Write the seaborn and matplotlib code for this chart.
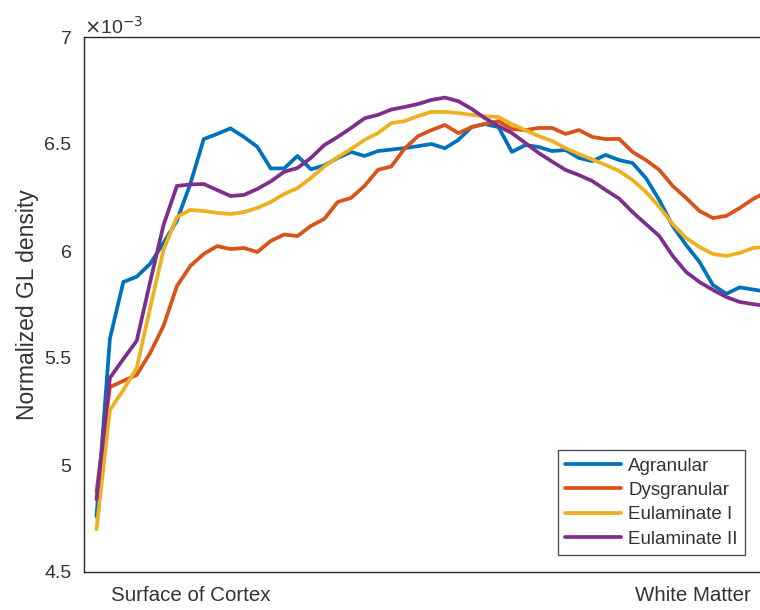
import numpy as np
import pandas as pd
import matplotlib
matplotlib.use("Agg")
import matplotlib.pyplot as plt
import seaborn as sns

# Normalized GL density profiles (units of 1e-3), sampled from cortical surface to white matter
agranular = [4.76, 5.59, 5.855, 5.88, 5.94, 6.037, 6.142, 6.313, 6.523, 6.547, 6.573, 6.533,
             6.487, 6.386, 6.386, 6.444, 6.382, 6.40, 6.435, 6.463, 6.444, 6.467, 6.474, 6.481,
             6.49, 6.50, 6.48, 6.519, 6.58, 6.593, 6.579, 6.463, 6.495, 6.486, 6.467, 6.472,
             6.435, 6.42, 6.449, 6.425, 6.411, 6.341, 6.238, 6.117, 6.028, 5.949, 5.841, 5.80,
             5.83, 5.82, 5.81]
dysgranular = [4.875, 5.364, 5.393, 5.421, 5.523, 5.65, 5.836, 5.93, 5.986, 6.023, 6.009, 6.014,
               5.995, 6.047, 6.077, 6.07, 6.117, 6.15, 6.229, 6.248, 6.304, 6.379, 6.395, 6.479,
               6.537, 6.565, 6.589, 6.551, 6.579, 6.594, 6.607, 6.57, 6.565, 6.575, 6.575, 6.547,
               6.565, 6.533, 6.523, 6.524, 6.463, 6.425, 6.379, 6.304, 6.248, 6.187, 6.154, 6.164,
               6.201, 6.243, 6.276]
eulaminate_1 = [4.70, 5.257, 5.35, 5.453, 5.733, 6.005, 6.159, 6.192, 6.187, 6.178, 6.173, 6.182,
                6.201, 6.229, 6.266, 6.294, 6.341, 6.395, 6.439, 6.477, 6.519, 6.551, 6.598, 6.607,
                6.631, 6.65, 6.65, 6.645, 6.636, 6.63, 6.626, 6.593, 6.565, 6.537, 6.514, 6.481,
                6.453, 6.428, 6.402, 6.374, 6.332, 6.276, 6.206, 6.126, 6.061, 6.019, 5.986, 5.977,
                5.991, 6.014, 6.02]
eulaminate_2 = [4.84, 5.407, 5.495, 5.58, 5.855, 6.121, 6.304, 6.311, 6.313, 6.285, 6.257, 6.262,
                6.29, 6.325, 6.37, 6.388, 6.435, 6.495, 6.533, 6.575, 6.62, 6.636, 6.661, 6.673,
                6.687, 6.706, 6.717, 6.70, 6.664, 6.62, 6.584, 6.551, 6.505, 6.458, 6.418, 6.379,
                6.355, 6.327, 6.285, 6.245, 6.182, 6.126, 6.07, 5.977, 5.902, 5.855, 5.818, 5.785,
                5.762, 5.752, 5.743]

series_names = ["Agranular", "Dysgranular", "Eulaminate I", "Eulaminate II"]
series_values = [agranular, dysgranular, eulaminate_1, eulaminate_2]
colors = ["#0072BD", "#D95319", "#EDB120", "#7E2F8E"]

y_ticks = [4.5, 5, 5.5, 6, 6.5, 7]
y_tick_labels = ["4.5", "5", "5.5", "6", "6.5", "7"]
x_tick_pos = [7.0, 44.5]
x_tick_labels = ["Surface of Cortex", "White Matter"]

frames = []
for name, vals in zip(series_names, series_values):
    frames.append(pd.DataFrame({"depth": np.arange(len(vals)), "density": vals, "region": name}))
df = pd.concat(frames, ignore_index=True)

sns.set_theme(style="white")
plt.rcParams["font.family"] = ["Liberation Sans", "DejaVu Sans"]
text_color = "#333333"

W, H = 760, 610
fig = plt.figure(figsize=(W / 100, H / 100), dpi=100)
left_px, right_px, top_px, bottom_px = 84, 800, 37, 572
ax = fig.add_axes([left_px / W, 1 - bottom_px / H,
                   (right_px - left_px) / W, (bottom_px - top_px) / H])

sns.lineplot(data=df, x="depth", y="density", hue="region", hue_order=series_names,
             palette=colors, linewidth=2.7, estimator=None, ax=ax)

px_per_step = 13.4
x_min = -(96.5 - left_px) / px_per_step
ax.set_xlim(x_min, x_min + (right_px - left_px) / px_per_step)
ax.set_ylim(4.5, 7)

ax.set_yticks(y_ticks)
ax.set_yticklabels(y_tick_labels)
ax.set_xticks(x_tick_pos)
ax.set_xticklabels(x_tick_labels)
ax.tick_params(axis="y", length=0, labelsize=14, colors=text_color, pad=9)
ax.tick_params(axis="x", length=0, labelsize=14.8, colors=text_color, pad=10)

ax.set_xlabel("")
ax.set_ylabel("Normalized GL density", fontsize=16.5, color=text_color, labelpad=4)

for side in ["left", "bottom", "top"]:
    ax.spines[side].set_color("#262626")
    ax.spines[side].set_linewidth(1.0)
ax.spines["right"].set_visible(False)

fig.text(left_px / W, 1 - 27 / H, r"$\times$10$^{-3}$", fontsize=14, color=text_color,
         ha="left", va="center")

leg = ax.legend(loc="lower right", bbox_to_anchor=((745 - left_px) / (right_px - left_px),
                (bottom_px - 555) / (bottom_px - top_px)),
                borderaxespad=0, fontsize=13.5, frameon=True, fancybox=False,
                handlelength=3.0, handletextpad=0.35, labelspacing=0.38, borderpad=0.4)
leg.get_frame().set_edgecolor("#262626")
leg.get_frame().set_linewidth(1.0)
for t in leg.get_texts():
    t.set_color(text_color)
for l in leg.get_lines():
    l.set_linewidth(2.7)

fig.savefig("out.png", dpi=100)
